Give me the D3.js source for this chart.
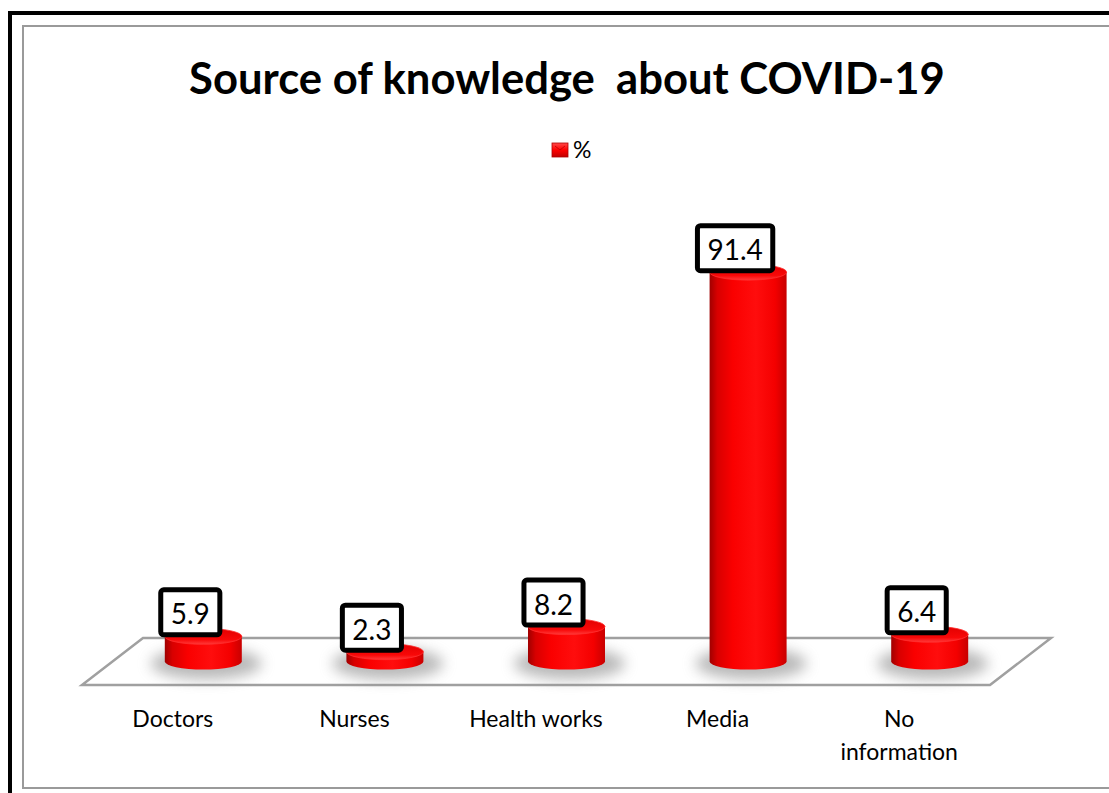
<!DOCTYPE html>
<html>
<head>
<meta charset="utf-8">
<script src="https://cdn.jsdelivr.net/npm/d3@7"></script>
<style>
  body { margin: 0; background: #fff; }
  svg { display: block; }
</style>
</head>
<body>
<svg id="chart" width="1109" height="793"></svg>
<script>
// Chart data
const categories = ["Doctors", "Nurses", "Health works", "Media", "No information"];
const categoryLines = [["Doctors"], ["Nurses"], ["Health works"], ["Media"], ["No", "information"]];
const percentValues = [5.9, 2.3, 8.2, 91.4, 6.4];
const seriesName = "%";
const chartTitle = "Source of knowledge  about COVID-19";

const FONT = "Lato, 'Open Sans', 'Liberation Sans', sans-serif";
const svg = d3.select("#chart");

// Frame: heavy black outer border and thin grey chart-area border
svg.append("rect").attr("x", 10).attr("y", 13).attr("width", 1140).attr("height", 820)
  .attr("fill", "#fff").attr("stroke", "#000").attr("stroke-width", 4);
svg.append("rect").attr("x", 23).attr("y", 26).attr("width", 1120).attr("height", 762)
  .attr("fill", "#fff").attr("stroke", "#9a9a9a").attr("stroke-width", 2);

// Definitions: gradients and shadow blur
const defs = svg.append("defs");
const bodyGrad = defs.append("linearGradient").attr("id", "cylBody")
  .attr("x1", 0).attr("x2", 1).attr("y1", 0).attr("y2", 0);
[[0, "#a00000"], [0.1, "#d80000"], [0.3, "#fa0000"], [0.6, "#ff0d0d"], [0.85, "#f40000"], [1, "#c80000"]]
  .forEach(([o, c]) => bodyGrad.append("stop").attr("offset", o).attr("stop-color", c));
const topGrad = defs.append("linearGradient").attr("id", "cylTop")
  .attr("x1", 0).attr("x2", 0).attr("y1", 0).attr("y2", 1);
[[0, "#e00000"], [0.7, "#f80808"], [1, "#ff3a3a"]]
  .forEach(([o, c]) => topGrad.append("stop").attr("offset", o).attr("stop-color", c));
const legGrad = defs.append("linearGradient").attr("id", "legGrad")
  .attr("x1", 0).attr("x2", 0).attr("y1", 0).attr("y2", 1);
[[0, "#ff4a4a"], [0.5, "#ff0000"], [1, "#c00000"]]
  .forEach(([o, c]) => legGrad.append("stop").attr("offset", o).attr("stop-color", c));
defs.append("filter").attr("id", "softShadow")
  .attr("x", "-50%").attr("y", "-100%").attr("width", "200%").attr("height", "300%")
  .append("feGaussianBlur").attr("stdDeviation", 7);

// Title
const title = svg.append("text")
  .attr("x", 567).attr("y", 94)
  .attr("text-anchor", "middle")
  .style("white-space", "pre")
  .attr("font-family", FONT).attr("font-weight", 700).attr("font-size", 40)
  .attr("fill", "#000")
  .text(chartTitle);
const tw = title.node().getComputedTextLength();
title.attr("font-size", 40 * 756 / tw);

// Legend
const legend = svg.append("g").attr("transform", "translate(552,143)");
legend.append("rect").attr("width", 16).attr("height", 14)
  .attr("fill", "url(#legGrad)").attr("stroke", "#b00000").attr("stroke-width", 0.8);
legend.append("path").attr("d", "M3,3 L8,7 L13,3").attr("fill", "none")
  .attr("stroke", "#b80000").attr("stroke-width", 0.8);
legend.append("text").attr("x", 21).attr("y", 15)
  .attr("font-family", FONT).attr("font-size", 23).attr("fill", "#000")
  .text(seriesName);

// Scales: the category band runs along the front edge of the floor
const frontY = 685;
const depthDx = 61, depthDy = -47;
const x = d3.scaleBand().domain(categories).range([82, 990]);
const baseY = frontY + depthDy / 2;
const y = d3.scaleLinear().domain([0, 100]).range([baseY, 235.5]);

// Floor parallelogram
const [fx0, fx1] = x.range();
svg.append("path")
  .attr("d", `M${fx0},${frontY} L${fx1},${frontY} L${fx1 + depthDx},${frontY + depthDy} L${fx0 + depthDx},${frontY + depthDy} Z`)
  .attr("fill", "#fff").attr("stroke", "#a0a0a0").attr("stroke-width", 2.5);

const rx = x.bandwidth() * 0.212;
const ry = 8;
const barCx = d => x(d.cat) + x.bandwidth() / 2 + depthDx / 2;
const data = categories.map((c, i) => ({ cat: c, value: percentValues[i], lines: categoryLines[i] }));

// Shadows under the cylinders
svg.append("g").selectAll("ellipse").data(data).join("ellipse")
  .attr("cx", d => barCx(d) + 3)
  .attr("cy", baseY + 2)
  .attr("rx", rx + 17)
  .attr("ry", ry + 8)
  .attr("fill", "#8a8a8a")
  .attr("opacity", 0.6)
  .attr("filter", "url(#softShadow)");

// Cylinders
const bars = svg.append("g").selectAll("g").data(data).join("g");
bars.append("path")
  .attr("d", d => {
    const cx = barCx(d), yt = y(d.value);
    return `M${cx - rx},${yt} L${cx - rx},${baseY} A${rx},${ry} 0 0 0 ${cx + rx},${baseY} L${cx + rx},${yt} Z`;
  })
  .attr("fill", "url(#cylBody)");
bars.append("ellipse")
  .attr("cx", barCx).attr("cy", d => y(d.value))
  .attr("rx", rx).attr("ry", ry)
  .attr("fill", "url(#cylTop)")
  .attr("stroke", "#ff2e2e").attr("stroke-width", 0.8);

// Value labels in boxed callouts
const labels = svg.append("g").selectAll("g").data(data).join("g");
labels.each(function (d) {
  const g = d3.select(this);
  const cx = barCx(d) - 13;
  const bottom = y(d.value) + 1;
  const t = g.append("text")
    .attr("x", cx).attr("y", bottom - 13)
    .attr("text-anchor", "middle")
    .attr("font-family", FONT).attr("font-size", 28).attr("fill", "#000")
    .text(d.value.toFixed(1));
  const w = t.node().getComputedTextLength() + 20;
  g.insert("rect", "text")
    .attr("x", cx - w / 2).attr("y", bottom - 47.5)
    .attr("width", w).attr("height", 45)
    .attr("rx", 3)
    .attr("fill", "#fff").attr("stroke", "#000").attr("stroke-width", 5);
});

// Category labels along the front edge
const catG = svg.append("g").selectAll("text").data(data).join("text")
  .attr("x", d => x(d.cat) + x.bandwidth() / 2)
  .attr("y", 727)
  .attr("text-anchor", "middle")
  .attr("font-family", FONT).attr("font-size", 23).attr("fill", "#000");
catG.selectAll("tspan").data(d => d.lines.map((l, i) => ({ l, i, x: x(d.cat) + x.bandwidth() / 2 })))
  .join("tspan")
  .attr("x", t => t.x)
  .attr("dy", t => t.i === 0 ? 0 : 33)
  .text(t => t.l);
</script>
</body>
</html>
